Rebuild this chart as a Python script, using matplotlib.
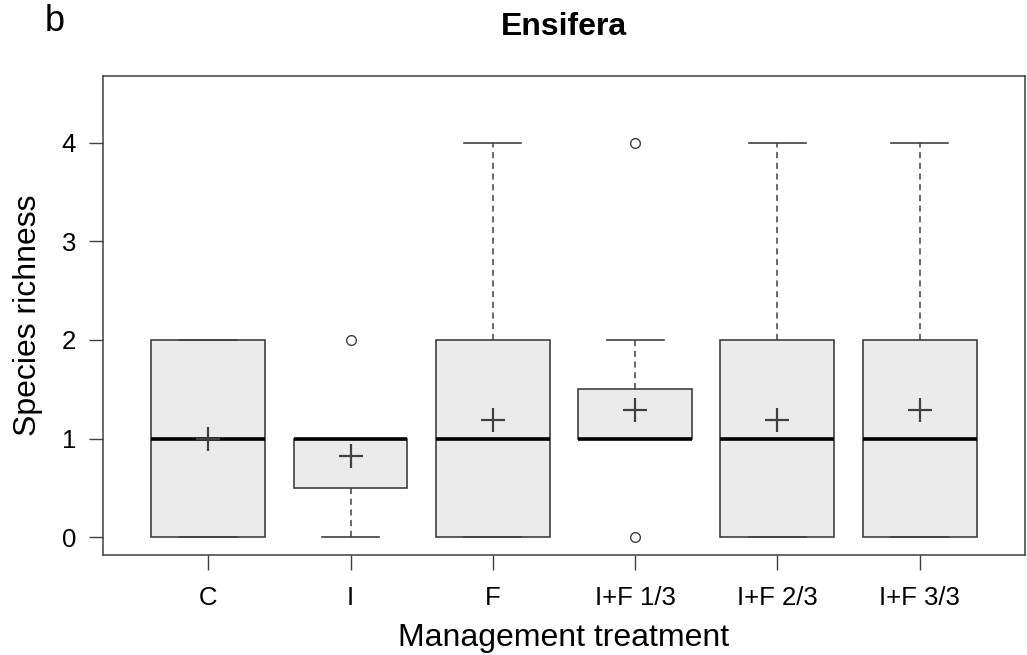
import matplotlib.pyplot as plt

plt.rcParams['font.family'] = ['Liberation Sans', 'DejaVu Sans']

groups = ["C", "I", "F", "I+F 1/3", "I+F 2/3", "I+F 3/3"]
whislo = [0, 0, 0, 1, 0, 0]
q1 = [0, 0.5, 0, 1, 0, 0]
med = [1, 1, 1, 1, 1, 1]
q3 = [2, 1, 2, 1.5, 2, 2]
whishi = [2, 1, 4, 2, 4, 4]
means = [1.0, 0.82, 1.19, 1.29, 1.19, 1.29]
fliers = [[], [2], [], [0, 4], [], []]

stats = []
for i in range(len(groups)):
    stats.append(dict(label=groups[i], whislo=whislo[i], q1=q1[i], med=med[i],
                      q3=q3[i], whishi=whishi[i], mean=means[i], fliers=fliers[i]))

edge = "#404040"
fig = plt.figure(figsize=(10.27, 6.55), dpi=100)
ax = fig.add_axes([0.1003, 0.1527, 0.8977, 0.732])

pos = list(range(1, len(groups) + 1))
ax.bxp(stats, positions=pos, widths=0.8, capwidths=0.4, patch_artist=True,
       showmeans=True,
       boxprops=dict(facecolor="#ebebeb", edgecolor=edge, linewidth=1.2),
       medianprops=dict(color="black", linewidth=2.6, solid_capstyle="butt"),
       whiskerprops=dict(color=edge, linewidth=1.1, linestyle=(0, (4, 3))),
       capprops=dict(color=edge, linewidth=1.2),
       flierprops=dict(marker="o", markerfacecolor="white", markeredgecolor=edge,
                       markersize=7, markeredgewidth=1.0),
       meanprops=dict(marker="+", markeredgecolor=edge, markersize=17,
                      markeredgewidth=1.6))

ax.set_xlim(0.26, 6.74)
ax.set_ylim(-0.18, 4.68)
ax.set_yticks([0, 1, 2, 3, 4])
ax.set_xticks(pos)
ax.set_xticklabels(groups)
ax.tick_params(axis="y", length=10, width=1.0, color=edge, labelsize=18.5, pad=9.5)
ax.tick_params(axis="x", length=11, width=1.0, color=edge, labelsize=18.5, pad=11)
for s in ax.spines.values():
    s.set_color(edge)
    s.set_linewidth(1.1)

ax.set_xlabel("Management treatment", fontsize=23, labelpad=10)
ax.set_ylabel("Species richness", fontsize=23, labelpad=13)
ax.set_title("Ensifera", fontsize=23, fontweight="bold", pad=29)
fig.text(0.044, 0.953, "b", fontsize=26)

fig.savefig("out.png", dpi=100)
